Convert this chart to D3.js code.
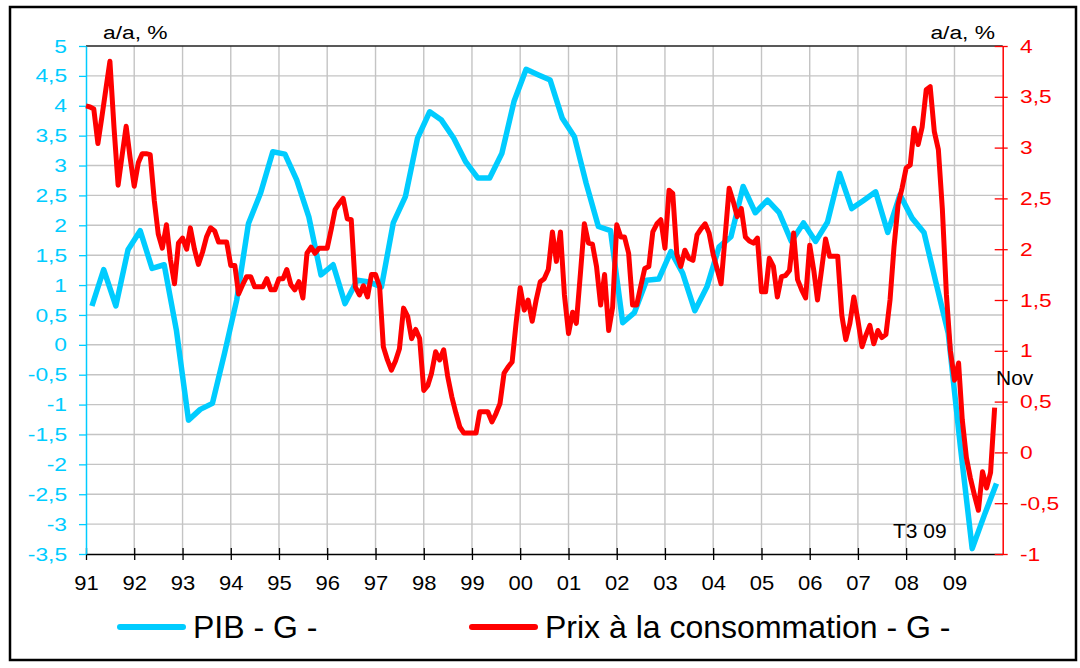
<!DOCTYPE html>
<html>
<head>
<meta charset="utf-8">
<script src="https://cdn.jsdelivr.net/npm/d3@7"></script>
<style>
  body { margin: 0; background: #fff; }
  text { font-family: "Liberation Sans", Arial, sans-serif; }
</style>
</head>
<body>
<div id="chart"></div>
<script>

// PIB, glissement annuel trimestriel (T4 90 .. T3 09)
var gdp = [0.65, 1.26, 0.65, 1.59, 1.91, 1.28, 1.34, 0.25, -1.26, -1.08,
  -0.98, -0.14, 0.75, 2.03, 2.54, 3.23, 3.19, 2.76, 2.14, 1.17,
  1.34, 0.69, 1.08, 1.05, 0.97, 2.04, 2.48, 3.46, 3.90, 3.76,
  3.46, 3.06, 2.79, 2.79, 3.20, 4.07, 4.61, 4.52, 4.43, 3.79,
  3.48, 2.70, 1.98, 1.91, 0.37, 0.54, 1.08, 1.10, 1.56, 1.20,
  0.57, 0.97, 1.64, 1.81, 2.65, 2.21, 2.42, 2.21, 1.73, 2.04,
  1.73, 2.05, 2.87, 2.28, 2.42, 2.56, 1.88, 2.51, 2.12, 1.88,
  1.03, 0.19, -1.71, -3.41, -2.85, -2.32];

// Prix a la consommation, glissement annuel mensuel (janv. 91 .. nov. 09)
var cpi = [3.41, 3.40, 3.38, 3.04, 3.30, 3.58, 3.85, 3.20, 2.63, 2.92,
  3.21, 2.90, 2.62, 2.85, 2.94, 2.94, 2.93, 2.48, 2.15, 2.01,
  2.24, 1.90, 1.66, 2.06, 2.11, 2.00, 2.21, 2.00, 1.85, 1.97,
  2.12, 2.21, 2.18, 2.07, 2.07, 2.07, 1.84, 1.84, 1.56, 1.65,
  1.73, 1.73, 1.63, 1.63, 1.63, 1.71, 1.60, 1.60, 1.71, 1.71,
  1.80, 1.65, 1.60, 1.68, 1.52, 1.96, 2.02, 1.96, 2.01, 2.01,
  2.01, 2.20, 2.39, 2.45, 2.50, 2.30, 2.29, 1.63, 1.55, 1.64,
  1.53, 1.75, 1.75, 1.63, 1.04, 0.91, 0.81, 0.90, 1.02, 1.42,
  1.34, 1.12, 1.21, 1.12, 0.61, 0.66, 0.78, 0.99, 0.91, 1.01,
  0.75, 0.55, 0.39, 0.25, 0.19, 0.19, 0.19, 0.19, 0.40, 0.40,
  0.40, 0.30, 0.38, 0.48, 0.78, 0.84, 0.89, 1.27, 1.62, 1.40,
  1.50, 1.29, 1.50, 1.68, 1.71, 1.80, 2.17, 1.88, 2.17, 1.55,
  1.17, 1.38, 1.27, 1.76, 2.25, 2.06, 2.05, 1.83, 1.45, 1.75,
  1.20, 1.43, 2.24, 2.12, 2.12, 1.96, 1.45, 1.45, 1.63, 1.81,
  1.83, 2.17, 2.25, 2.29, 2.01, 2.58, 2.55, 1.95, 1.83, 1.99,
  1.91, 1.89, 2.14, 2.20, 2.25, 2.16, 1.95, 1.80, 1.66, 2.13,
  2.60, 2.47, 2.32, 2.40, 2.12, 2.08, 2.06, 2.11, 1.58, 1.58,
  1.91, 1.83, 1.53, 1.73, 1.74, 1.79, 2.16, 1.70, 1.60, 1.52,
  2.04, 1.79, 1.50, 1.80, 2.10, 1.93, 1.93, 1.93, 1.35, 1.11,
  1.27, 1.53, 1.30, 1.04, 1.15, 1.25, 1.07, 1.20, 1.13, 1.16,
  1.50, 2.02, 2.44, 2.60, 2.80, 2.83, 3.19, 3.03, 3.20, 3.57,
  3.60, 3.16, 2.98, 2.40, 1.55, 1.00, 0.71, 0.88, 0.32, -0.05,
  -0.25, -0.42, -0.57, -0.19, -0.35, -0.20, 0.44];

var years = [1991, 1992, 1993, 1994, 1995, 1996, 1997, 1998, 1999, 2000,
  2001, 2002, 2003, 2004, 2005, 2006, 2007, 2008, 2009];
var leftTicks = [5, 4.5, 4, 3.5, 3, 2.5, 2, 1.5, 1, 0.5, 0, -0.5, -1, -1.5, -2, -2.5, -3, -3.5];
var rightTicks = [4, 3.5, 3, 2.5, 2, 1.5, 1, 0.5, 0, -0.5, -1];
var seriesNames = ["PIB - G -", "Prix à la consommation - G -"];

var cyan = "#00ccff", red = "#ff0000";
var plot = {left: 86, right: 1002.7, top: 46, bottom: 554};

var svg = d3.select("#chart").append("svg")
  .attr("width", 1080)
  .attr("height", 668);

var x = d3.scaleTime()
  .domain([new Date(1991, 0, 1), new Date(2010, 0, 1)])
  .range([plot.left, plot.right]);
var yL = d3.scaleLinear().domain([-3.5, 5]).range([plot.bottom, plot.top]);
var yR = d3.scaleLinear().domain([-1, 4]).range([plot.bottom, plot.top]);

var comma = function (d) { return String(d).replace(".", ","); };

var gdpData = gdp.map(function (v, i) {
  return {date: new Date(1991, 1 + 3 * i, 15), value: v};
});
var cpiData = cpi.map(function (v, i) {
  return {date: new Date(1991, i, 1), value: v};
});

// outer frame
svg.append("rect")
  .attr("x", 10).attr("y", 7)
  .attr("width", 1066).attr("height", 653)
  .attr("fill", "none").attr("stroke", "#000").attr("stroke-width", 2.5);

// grid
svg.append("g").selectAll("line")
  .data(leftTicks.slice(1, -1)).enter()
  .append("line")
    .attr("x1", plot.left).attr("x2", plot.right)
    .attr("y1", function (d) { return yL(d); })
    .attr("y2", function (d) { return yL(d); })
    .attr("stroke", "#c4c4c4").attr("stroke-width", 1.4);

svg.append("g").selectAll("line")
  .data(years.slice(1)).enter()
  .append("line")
    .attr("x1", function (d) { return x(new Date(d, 0, 1)); })
    .attr("x2", function (d) { return x(new Date(d, 0, 1)); })
    .attr("y1", plot.top).attr("y2", plot.bottom)
    .attr("stroke", "#c4c4c4").attr("stroke-width", 1.4);

svg.append("line")
  .attr("x1", plot.left).attr("x2", plot.right)
  .attr("y1", plot.top).attr("y2", plot.top)
  .attr("stroke", "#222").attr("stroke-width", 1.6);

// axes
var gx = svg.append("g")
  .attr("transform", "translate(0," + plot.bottom + ")")
  .call(d3.axisBottom(x)
    .tickValues(years.map(function (d) { return new Date(d, 0, 1); }))
    .tickFormat(d3.timeFormat("%y"))
    .tickSizeOuter(0));
gx.select(".domain").attr("stroke", "#000").attr("stroke-width", 1.5);
gx.selectAll(".tick line")
  .attr("y1", -6).attr("y2", 6)
  .attr("stroke", "#000").attr("stroke-width", 1.3);
gx.selectAll(".tick text")
  .attr("y", 36).attr("dy", null)
  .attr("font-size", 20).attr("fill", "#000")
  .attr("transform", "scale(1.1,1)");

var gl = svg.append("g")
  .attr("transform", "translate(" + plot.left + ",0)")
  .call(d3.axisLeft(yL).tickValues(leftTicks).tickFormat(comma)
    .tickSize(7).tickSizeOuter(0));
gl.select(".domain").attr("stroke", cyan).attr("stroke-width", 1.5);
gl.selectAll(".tick line").attr("stroke", cyan).attr("stroke-width", 1.3);
gl.selectAll(".tick text")
  .attr("x", -15.8)
  .attr("font-size", 19).attr("fill", cyan)
  .attr("transform", "scale(1.2,1)");

var gr = svg.append("g")
  .attr("transform", "translate(" + plot.right + ",0)")
  .call(d3.axisRight(yR).tickValues(rightTicks).tickFormat(comma)
    .tickSize(5).tickSizeOuter(0));
gr.select(".domain").attr("stroke", red).attr("stroke-width", 1.5);
gr.selectAll(".tick line")
  .attr("x1", -8).attr("x2", 5)
  .attr("stroke", red).attr("stroke-width", 1.3);
gr.selectAll(".tick text")
  .attr("x", 14.4)
  .attr("font-size", 19).attr("fill", red)
  .attr("transform", "scale(1.2,1)");

// series
var lineL = d3.line()
  .x(function (d) { return x(d.date); })
  .y(function (d) { return yL(d.value); });
var lineR = d3.line()
  .x(function (d) { return x(d.date); })
  .y(function (d) { return yR(d.value); });

svg.append("path")
  .datum(gdpData)
  .attr("d", lineL)
  .attr("fill", "none").attr("stroke", cyan)
  .attr("stroke-width", 5.5).attr("stroke-linejoin", "round");

svg.append("path")
  .datum(cpiData)
  .attr("d", lineR)
  .attr("fill", "none").attr("stroke", red)
  .attr("stroke-width", 5).attr("stroke-linejoin", "round");

// units and notes
svg.append("text")
  .attr("transform", "translate(103,39) scale(1.2,1)")
  .attr("font-size", 19)
  .text("a/a, %");
svg.append("text")
  .attr("transform", "translate(995,39) scale(1.2,1)")
  .attr("text-anchor", "end")
  .attr("font-size", 19)
  .text("a/a, %");
svg.append("text")
  .attr("x", 996).attr("y", 385)
  .attr("font-size", 21)
  .text("Nov");
svg.append("text")
  .attr("x", 893).attr("y", 538)
  .attr("font-size", 21)
  .text("T3 09");

// legend
var legend = svg.append("g").selectAll("g")
  .data([{name: seriesNames[0], color: cyan, x: 117}, {name: seriesNames[1], color: red, x: 469}])
  .enter().append("g")
    .attr("transform", function (d) { return "translate(" + d.x + ",627)"; });

legend.append("line")
  .attr("x1", 3).attr("x2", 66)
  .attr("stroke", function (d) { return d.color; })
  .attr("stroke-width", 6).attr("stroke-linecap", "round");

legend.append("text")
  .attr("x", 76).attr("y", 11)
  .attr("font-size", 32)
  .text(function (d) { return d.name; });

</script>
</body>
</html>
